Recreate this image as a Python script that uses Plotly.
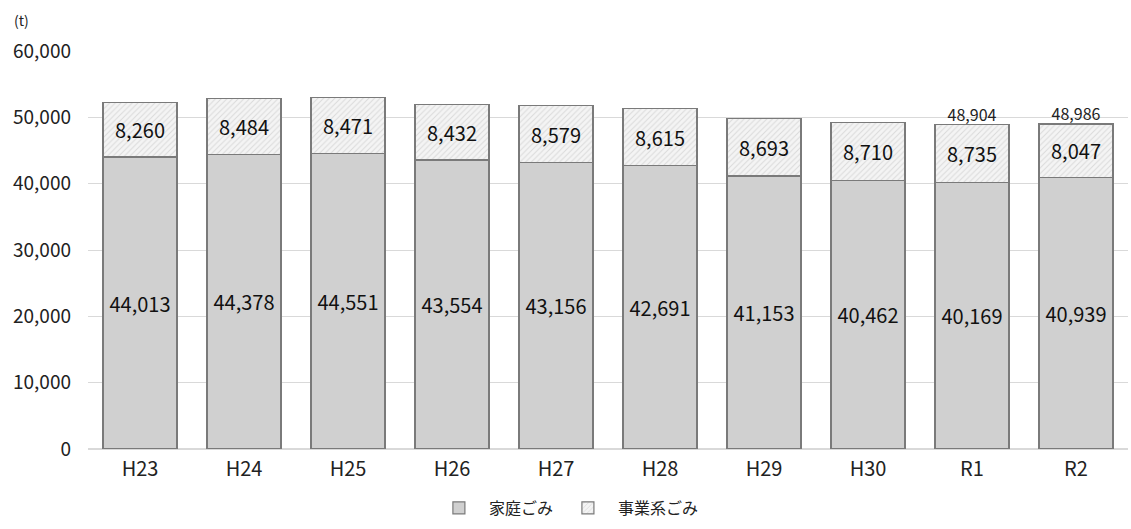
import plotly.graph_objects as go

years = ["H23", "H24", "H25", "H26", "H27", "H28", "H29", "H30", "R1", "R2"]
household = [44013, 44378, 44551, 43554, 43156, 42691, 41153, 40462, 40169, 40939]
business = [8260, 8484, 8471, 8432, 8579, 8615, 8693, 8710, 8735, 8047]
total_years = ["R1", "R2"]
total_values = [48904, 48986]

FONT = "Noto Sans CJK JP"
EDGE = "#7a7a7a"

fig = go.Figure()
fig.add_trace(go.Bar(
    x=years, y=household, name="家庭ごみ",
    marker=dict(color="#d0d0d0", line=dict(color=EDGE, width=1.2)),
    text=[f"{v:,}" for v in household], textposition="inside",
    insidetextanchor="middle", textangle=0,
    textfont=dict(size=20, color="#111111", family=FONT),
))
fig.add_trace(go.Bar(
    x=years, y=business, name="事業系ごみ",
    marker=dict(color="#f2f2f2", line=dict(color=EDGE, width=1.2),
                pattern=dict(shape="/", fgcolor="#c0c0c0", bgcolor="#f4f4f4",
                             size=4, solidity=0.25)),
    text=[f"{v:,}" for v in business], textposition="inside",
    insidetextanchor="middle", textangle=0,
    textfont=dict(size=20, color="#111111", family=FONT),
))
fig.add_trace(go.Scatter(
    x=total_years, y=total_values, mode="text",
    text=[f"{v:,}" for v in total_values], textposition="top center",
    textfont=dict(size=16, color="#222222", family=FONT),
    showlegend=False, hoverinfo="skip",
))

fig.update_layout(
    width=1131, height=529,
    margin=dict(l=88, r=3, t=51, b=80),
    barmode="stack", bargap=0.29,
    plot_bgcolor="white", paper_bgcolor="white",
    font=dict(family=FONT, color="#222222"),
    uniformtext=dict(mode=False),
    legend=dict(orientation="h", x=0.46, xanchor="center", y=-0.148, yanchor="middle",
                font=dict(size=16, family=FONT), itemwidth=50,
                traceorder="normal", tracegroupgap=30,
                bgcolor="rgba(0,0,0,0)"),
    xaxis=dict(tickfont=dict(size=20, family=FONT), showline=False,
               ticks="", ticklabelstandoff=6),
    yaxis=dict(range=[0, 60000], dtick=10000, tickformat=",",
               tickfont=dict(size=19, family=FONT),
               gridcolor="#d9d9d9", gridwidth=1, zeroline=True,
               zerolinecolor="#d9d9d9", showline=False,
               ticklabelstandoff=16),
    annotations=[dict(text="(t)", xref="paper", yref="paper", x=-0.073, y=1.078,
                      xanchor="left", yanchor="middle", showarrow=False,
                      font=dict(size=14, family=FONT))],
)

fig.write_html("out.html")
